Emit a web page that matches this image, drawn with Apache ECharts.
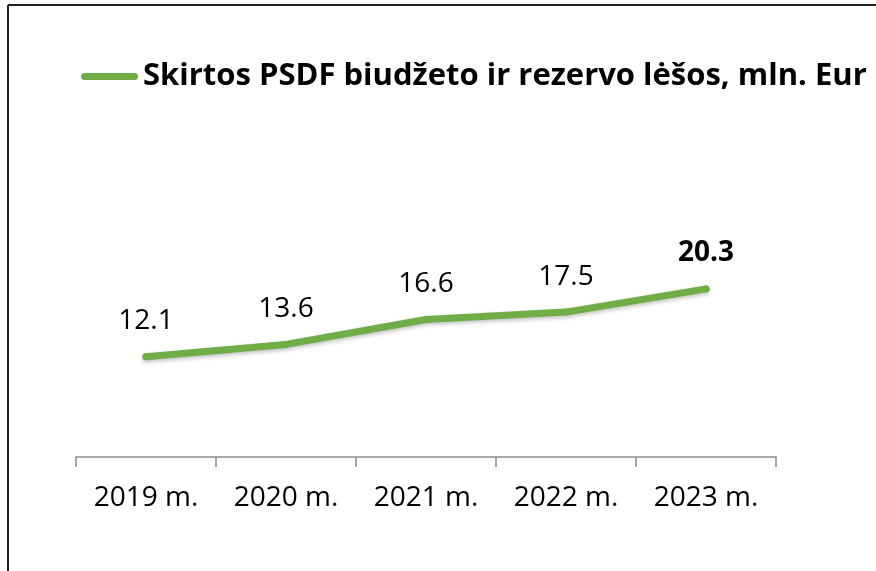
<!DOCTYPE html>
<html>
<head>
<meta charset="utf-8">
<script src="https://cdn.jsdelivr.net/npm/echarts@6/dist/echarts.min.js"></script>
<style>
  html, body { margin: 0; padding: 0; background: #fff; }
  #chart { width: 876px; height: 571px; }
</style>
</head>
<body>
<div id="chart"></div>
<script>
const seriesName = "Skirtos PSDF biudžeto ir rezervo lėšos, mln. Eur";
const years = ["2019 m.", "2020 m.", "2021 m.", "2022 m.", "2023 m."];
const values = [12.1, 13.6, 16.6, 17.5, 20.3];
const boldIndex = 4; // last value is shown in bold

const green = "#70AD47";
const font = "'Open Sans', sans-serif";

const chart = echarts.init(document.getElementById("chart"));

chart.setOption({
  backgroundColor: "#fff",
  animation: false,
  legend: {
    data: [seriesName],
    left: 76,
    top: 56,
    itemWidth: 57,
    itemHeight: 7,
    itemGap: 4,
    icon: "path://M3.5,0 H53.5 A3.5,3.5 0 0 1 53.5,7 H3.5 A3.5,3.5 0 0 1 3.5,0 Z",
    textStyle: { fontFamily: font, fontSize: 31, fontWeight: "bold", color: "#000" },
  },
  grid: { left: 76, right: 100, top: 250, bottom: 114 },
  xAxis: {
    type: "category",
    data: years,
    axisLine: { show: true, lineStyle: { color: "#8c8c8c", width: 1.5 } },
    axisTick: { show: true, length: 10, lineStyle: { color: "#8c8c8c", width: 1.5 } },
    axisLabel: { fontFamily: font, fontSize: 28, color: "#000", margin: 27 },
  },
  yAxis: {
    type: "value",
    min: 0,
    max: 25,
    show: false,
  },
  series: [
    {
      name: seriesName,
      type: "line",
      data: values.map((v, i) =>
        i === boldIndex ? { value: v, label: { fontWeight: "bold" } } : v
      ),
      symbol: "circle",
      symbolSize: 7,
      showSymbol: true,
      lineStyle: {
        color: green,
        width: 7,
        cap: "round",
        join: "round",
        shadowColor: "rgba(0,0,0,0.25)",
        shadowBlur: 4,
        shadowOffsetY: 2,
      },
      itemStyle: { color: green, borderWidth: 0 },
      label: {
        show: true,
        position: "top",
        distance: 18,
        fontFamily: font,
        fontSize: 28,
        color: "#000",
      },
    },
  ],
  graphic: [
    { type: "line", shape: { x1: 8, y1: 5, x2: 876, y2: 5 }, style: { stroke: "#222", lineWidth: 2 } },
    { type: "line", shape: { x1: 8, y1: 5, x2: 8, y2: 571 }, style: { stroke: "#222", lineWidth: 2 } },
  ],
});
</script>
</body>
</html>
